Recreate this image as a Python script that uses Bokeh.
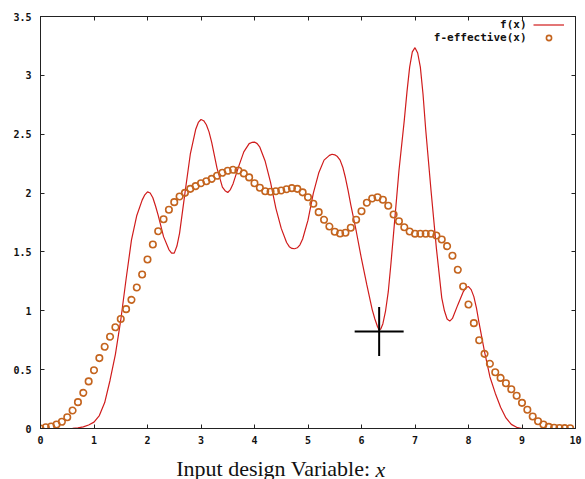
from bokeh.plotting import figure
from bokeh.models import (Range1d, FixedTicker, LinearAxis, Label, Legend, LegendItem,
                          CustomJSTickFormatter)
from bokeh.embed import file_html
from bokeh.resources import INLINE

# ---- data ----
fx_x = [0.0, 0.5, 0.6, 0.7, 0.8, 0.9, 1.0, 1.1, 1.2, 1.3, 1.4, 1.5, 1.6, 1.7, 1.8, 1.9,
        1.95, 2.0, 2.05, 2.1, 2.15, 2.2, 2.3, 2.4, 2.45, 2.5, 2.55, 2.6, 2.7, 2.8, 2.9,
        2.95, 3.0, 3.05, 3.1, 3.15, 3.2, 3.3, 3.4, 3.45, 3.5, 3.55, 3.6, 3.7, 3.8, 3.9,
        3.95, 4.0, 4.05, 4.1, 4.2, 4.3, 4.4, 4.5, 4.6, 4.65, 4.7, 4.75, 4.8, 4.85, 4.9,
        5.0, 5.1, 5.2, 5.3, 5.4, 5.45, 5.5, 5.55, 5.6, 5.65, 5.7, 5.75, 5.8, 5.9, 6.0,
        6.1, 6.2, 6.25, 6.3, 6.33, 6.36, 6.4, 6.45, 6.5, 6.55, 6.6, 6.7, 6.8, 6.85, 6.9,
        6.95, 7.0, 7.05, 7.1, 7.15, 7.2, 7.3, 7.4, 7.5, 7.55, 7.6, 7.65, 7.7, 7.8, 7.9,
        7.95, 8.0, 8.05, 8.1, 8.15, 8.2, 8.3, 8.4, 8.5, 8.6, 8.7, 8.8, 8.9, 9.0, 10.0]
fx_y = [0.0, 0.0, 0.002, 0.006, 0.014, 0.03, 0.054, 0.11, 0.22, 0.41, 0.63, 0.92, 1.27,
        1.60, 1.81, 1.94, 1.985, 2.01, 2.0, 1.96, 1.89, 1.81, 1.63, 1.52, 1.49, 1.49,
        1.55, 1.66, 2.00, 2.33, 2.54, 2.60, 2.625, 2.615, 2.58, 2.52, 2.43, 2.21, 2.05,
        2.02, 2.005, 2.03, 2.08, 2.22, 2.35, 2.42, 2.43, 2.433, 2.42, 2.39, 2.27, 2.09,
        1.87, 1.70, 1.58, 1.545, 1.53, 1.527, 1.535, 1.56, 1.61, 1.77, 2.00, 2.17, 2.28,
        2.32, 2.33, 2.325, 2.31, 2.28, 2.22, 2.13, 2.02, 1.90, 1.68, 1.44, 1.22, 1.01,
        0.93, 0.865, 0.838, 0.845, 0.89, 1.0, 1.16, 1.40, 1.66, 2.19, 2.62, 2.86, 3.07,
        3.20, 3.235, 3.19, 3.07, 2.84, 2.54, 2.02, 1.53, 1.11, 1.0, 0.93, 0.912, 0.935,
        1.05, 1.16, 1.195, 1.206, 1.18, 1.12, 1.02, 0.89, 0.65, 0.44, 0.30, 0.18, 0.09,
        0.035, 0.01, 0.0, 0.0]

feff_x = [round(0.1 * i, 1) for i in range(100)]
feff_y = [0.00, 0.01, 0.017, 0.034, 0.057, 0.096, 0.153, 0.224, 0.303, 0.40,
          0.495, 0.598, 0.694, 0.78, 0.86, 0.93, 1.014, 1.093, 1.198, 1.308,
          1.436, 1.563, 1.676, 1.778, 1.858, 1.923, 1.971, 2.002, 2.036, 2.059,
          2.084, 2.101, 2.121, 2.147, 2.172, 2.189, 2.198, 2.192, 2.167, 2.133,
          2.084, 2.045, 2.016, 2.011, 2.016, 2.022, 2.033, 2.042, 2.036, 2.006,
          1.964, 1.909, 1.838, 1.773, 1.716, 1.671, 1.657, 1.663, 1.705, 1.773,
          1.846, 1.918, 1.954, 1.965, 1.943, 1.892, 1.818, 1.761, 1.71, 1.674,
          1.655, 1.655, 1.655, 1.654, 1.640, 1.606, 1.549, 1.467, 1.348, 1.206,
          1.053, 0.895, 0.75, 0.634, 0.55, 0.478, 0.43, 0.385, 0.334, 0.278,
          0.218, 0.159, 0.102, 0.062, 0.034, 0.014, 0.006, 0.004, 0.003, 0.002]

min_x = [6.33]
min_y = [0.824]

x_ticks = [0, 1, 2, 3, 4, 5, 6, 7, 8, 9, 10]
y_ticks = [0, 0.5, 1, 1.5, 2, 2.5, 3, 3.5]
y_tick_labels = ["0", "0.5", "1", "1.5", "2", "2.5", "3", "3.5"]

RED = "#d01c1c"
ORANGE = "#c4641e"
TICK_FONT = "DejaVu Sans Mono"

p = figure(width=585, height=479, output_backend="svg", toolbar_location=None,
           x_range=Range1d(0, 10), y_range=Range1d(0, 3.5),
           min_border_left=39, min_border_right=10, min_border_top=16, min_border_bottom=51)
p.background_fill_color = "white"
p.border_fill_color = "white"
p.outline_line_color = "#222222"
p.outline_line_width = 1
p.xgrid.visible = False
p.ygrid.visible = False

line_r = p.line(fx_x, fx_y, line_color=RED, line_width=1.2)
pts_r = p.scatter(feff_x, feff_y, marker="circle", size=6.5, fill_color=None,
                  line_color=ORANGE, line_width=1.6)
p.scatter(min_x, min_y, marker="cross", size=49, line_color="black", line_width=2)

def style_axis(ax, ticks, show_labels):
    ax.ticker = FixedTicker(ticks=ticks)
    ax.major_tick_in = 4
    ax.major_tick_out = 0
    ax.minor_tick_line_color = None
    ax.axis_line_color = "#222222"
    ax.major_tick_line_color = "#222222"
    ax.major_label_text_font = TICK_FONT
    ax.major_label_text_font_style = "bold"
    ax.major_label_text_font_size = "10px"
    ax.major_label_text_color = "#111111"
    if not show_labels:
        ax.formatter = CustomJSTickFormatter(code="return ''")
        ax.major_label_standoff = 0

style_axis(p.xaxis[0], x_ticks, True)
style_axis(p.yaxis[0], y_ticks, True)
p.xaxis[0].major_label_standoff = 7
p.yaxis[0].major_label_standoff = 9
p.yaxis[0].major_label_overrides = {t: l for t, l in zip(y_ticks, y_tick_labels)}

top_ax = LinearAxis()
right_ax = LinearAxis()
style_axis(top_ax, x_ticks, False)
style_axis(right_ax, y_ticks, False)
p.add_layout(top_ax, "above")
p.add_layout(right_ax, "right")

# key (gnuplot style: text right-aligned, sample to its right)
legend = Legend(items=[LegendItem(label="", renderers=[line_r]),
                       LegendItem(label="", renderers=[pts_r])],
                location=(493, 384), glyph_width=31, glyph_height=13,
                label_width=0, label_height=13, label_standoff=0, padding=0,
                spacing=0, margin=0, border_line_alpha=0, background_fill_alpha=0)
p.add_layout(legend)

for txt, yy in [("f(x)", 404), ("f-effective(x)", 391)]:
    p.add_layout(Label(x=486, y=yy, x_units="screen", y_units="screen", text=txt,
                       text_align="right", text_baseline="middle",
                       text_font=TICK_FONT, text_font_style="bold",
                       text_font_size="11px", text_color="#111111"))

# x-axis title, with the variable in italics
p.add_layout(Label(x=330, y=3, x_units="screen", y_units="screen",
                   text="Input design Variable:", text_align="right",
                   text_baseline="alphabetic", text_font="Liberation Serif",
                   text_font_size="22px", text_line_height=1.0,
                   text_color="#111111"), "below")
p.add_layout(Label(x=375, y=-41, x_units="screen", y_units="screen",
                   text="x", text_align="left", text_baseline="alphabetic",
                   text_font="Liberation Serif", text_font_style="italic",
                   text_font_size="22px", text_line_height=1.0,
                   text_color="#111111"), "left")

open("out.html", "w").write(file_html(p, INLINE))
